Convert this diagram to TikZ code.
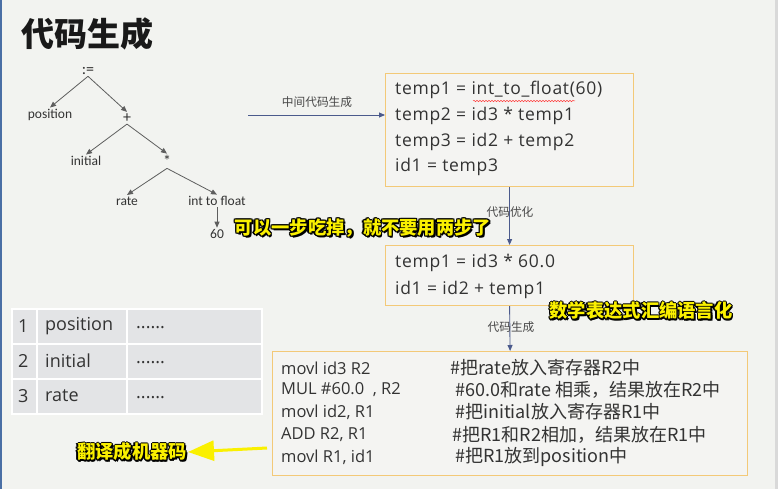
\documentclass[tikz,border=0pt]{standalone}
\usepackage{fontspec}
\setmainfont{Carlito}
\newfontfamily\cjk{Noto Sans CJK SC}
\newfontfamily\os{Open Sans}
\newfontfamily\osw[LetterSpace=4]{Open Sans}
\usetikzlibrary{arrows.meta,decorations.pathmorphing}
\definecolor{bg}{HTML}{F2F3F0}
\definecolor{boxfill}{HTML}{F4F4F2}
\definecolor{boxline}{HTML}{F3C978}
\definecolor{flow}{HTML}{4B5A8C}
\definecolor{treeline}{HTML}{5E5E5E}
\definecolor{txt}{HTML}{333333}
\definecolor{cell}{HTML}{E3E4E6}
\definecolor{subyellow}{HTML}{FAF000}
\definecolor{edgeblue}{HTML}{4A6FA5}
\tikzset{
  codebox/.style={draw=boxline, line width=1.2pt, fill=boxfill, anchor=north west, inner sep=0pt},
  codeline/.style={anchor=west, inner sep=0pt, text=txt, font=\osw\fontsize{17.5}{20}\selectfont},
  asmline/.style={anchor=west, inner sep=0pt, text=txt, font=\os\fontsize{16.5}{19}\selectfont},
  cmtline/.style={anchor=west, inner sep=0pt, text=txt, font=\cjk\fontsize{18}{20}\selectfont},
  treenode/.style={inner sep=1.5pt, text=txt, font=\fontsize{13.5}{15}\selectfont},
  treearrow/.style={draw=treeline, line width=0.8pt, -{Triangle[length=6pt,width=5pt]}},
  flowarrow/.style={draw=flow, line width=0.9pt, -{Triangle[length=6pt,width=5pt]}},
  flowlabel/.style={inner sep=0pt, text=txt!90, font=\cjk\fontsize{11.7}{13}\selectfont},
  tabcell/.style={fill=cell, draw=white, line width=2pt, anchor=north west, inner sep=0pt},
  tabtext/.style={anchor=west, inner sep=0pt, text=txt, font=\os\fontsize{18}{21}\selectfont},
  subtxt/.style={inner sep=0pt, font=\cjk\bfseries\fontsize{18.3}{21}\selectfont},
}
\newcommand\subtitle[3]{%
  \foreach \dx/\dy [count=\k] in {-1.3/0,1.3/0,0/-1.3,0/1.3,-0.95/-0.95,0.95/0.95,-0.95/0.95,0.95/-0.95,1.6/-1.6}{%
    \node[subtxt, text=black, xshift=\dx pt, yshift=\dy pt, name=#1o\k] at #2 {#3};}%
  \node[subtxt, text=subyellow, name=#1] at #2 {#3};}
\begin{document}
\begin{tikzpicture}[x=1pt,y=-1pt]
% background
\fill[bg] (0,0) rectangle (778,489);
\fill[edgeblue] (0,0) rectangle (2,489);
\fill[gray!30] (775,0) rectangle (778,489);
\useasboundingbox (0,0) rectangle (778,489);
% title
\node[inner sep=0pt, font=\cjk\bfseries\fontsize{33}{36}\selectfont, text=black!90] (title) at (87,34) {代码生成};
% tree
\node[treenode, font=\fontsize{16}{17}\selectfont] (root) at (88,71) {:=};
\node[treenode] (pos) at (50,115) {position};
\node[treenode, font=\fontsize{16}{17}\selectfont] (plus) at (127,118) {+};
\node[treenode] (init) at (86,161) {initial};
\node[treenode, font=\fontsize{16}{17}\selectfont] (star) at (167,161) {*};
\node[treenode] (rate) at (127,201) {rate};
\node[treenode] (itf) at (217,201) {int to float};
\node[treenode] (sixty) at (217,234) {60};
\draw[treearrow] (root.south) -- (pos.north);
\draw[treearrow] (root.south) -- (plus.north);
\draw[treearrow] (plus.south) -- (init.north);
\draw[treearrow] (plus.south) -- (star.north);
\draw[treearrow] (star.south) -- (rate.north);
\draw[treearrow] (star.south) -- (itf.north);
\draw[treearrow] (itf.south) -- (sixty.north);
% box 1
\node[codebox, minimum width=248pt, minimum height=113pt] (b1) at (385,73) {};
\node[codeline] (l11) at (395,90) {temp1 = int\_to\_float(60)};
\node[codeline] (l12) at (395,116) {temp2 = id3 * temp1};
\node[codeline] (l13) at (395,142) {temp3 = id2 + temp2};
\node[codeline] (l14) at (395,167) {id1 = temp3};
\coordinate (sq1) at (473,101);
\coordinate (sq2) at (575,101);
\draw[red!75, line width=0.5pt, decorate, decoration={snake, amplitude=0.7pt, segment length=3pt}] (sq1) -- (sq2);
% box 2
\node[codebox, minimum width=248pt, minimum height=60pt] (b2) at (385,245) {};
\node[codeline] (l21) at (395,263) {temp1 = id3 * 60.0};
\node[codeline] (l22) at (395,290) {id1 = id2 + temp1};
% box 3
\node[codebox, minimum width=475pt, minimum height=124pt] (b3) at (272,351) {};
\node[asmline] (a1) at (281,368) {movl id3 R2};
\node[asmline] (a2) at (281,390) {MUL \#60.0~~, R2};
\node[asmline] (a3) at (281,412) {movl id2, R1};
\node[asmline] (a4) at (281,435) {ADD R2, R1};
\node[asmline] (a5) at (281,457) {movl R1, id1};
\node[cmtline] (c1) at (450,368) {\#把rate放入寄存器R2中};
\node[cmtline] (c2) at (455,390) {\#60.0和rate 相乘，结果放在R2中};
\node[cmtline] (c3) at (455,412) {\#把initial放入寄存器R1中};
\node[cmtline] (c4) at (452,435) {\#把R1和R2相加，结果放在R1中};
\node[cmtline] (c5) at (455,457) {\#把R1放到position中};
% flow arrows
\coordinate (fa) at (248,115);
\draw[flowarrow] (fa) -- (fa -| b1.west);
\node[flowlabel] (fl1) at (317,102) {中间代码生成};
\draw[flowarrow] (b1.south) -- (b2.north);
\node[flowlabel] (fl2) at (510,212) {代码优化};
\draw[flowarrow] (b2.south) -- (b3.north);
\node[flowlabel] (fl3) at (511,327) {代码生成};
% table
\node[tabcell, minimum width=25pt, minimum height=35pt] (t11) at (11,308) {};
\node[tabcell, minimum width=90pt, minimum height=35pt] (t12) at (36,308) {};
\node[tabcell, minimum width=135pt, minimum height=35pt] (t13) at (126,308) {};
\node[tabcell, minimum width=25pt, minimum height=35pt] (t21) at (11,343) {};
\node[tabcell, minimum width=90pt, minimum height=35pt] (t22) at (36,343) {};
\node[tabcell, minimum width=135pt, minimum height=35pt] (t23) at (126,343) {};
\node[tabcell, minimum width=25pt, minimum height=35pt] (t31) at (11,378) {};
\node[tabcell, minimum width=90pt, minimum height=35pt] (t32) at (36,378) {};
\node[tabcell, minimum width=135pt, minimum height=35pt] (t33) at (126,378) {};
\node[tabtext] (n1) at (18,326) {1};
\node[tabtext] (n2) at (18,361) {2};
\node[tabtext] (n3) at (18,396) {3};
\node[tabtext] (s1) at (45,326) {position};
\node[tabtext] (s2) at (45,361) {initial};
\node[tabtext] (s3) at (45,396) {rate};
\node[tabtext] (d1) at (136,328) {......};
\node[tabtext] (d2) at (136,363) {......};
\node[tabtext] (d3) at (136,398) {......};
% subtitles
\subtitle{sub1}{(363,228)}{可以一步吃掉，就不要用两步了}
\subtitle{sub2}{(641,311)}{数学表达式汇编语言化}
\subtitle{sub3}{(132,452)}{翻译成机器码}
% yellow arrow
\coordinate (ya1) at (267,448);
\coordinate (ya2) at (188,452);
\draw[subyellow, line width=3pt, -{Triangle[length=26pt,width=20pt]}] (ya1) -- (ya2);
\end{tikzpicture}
\end{document}
